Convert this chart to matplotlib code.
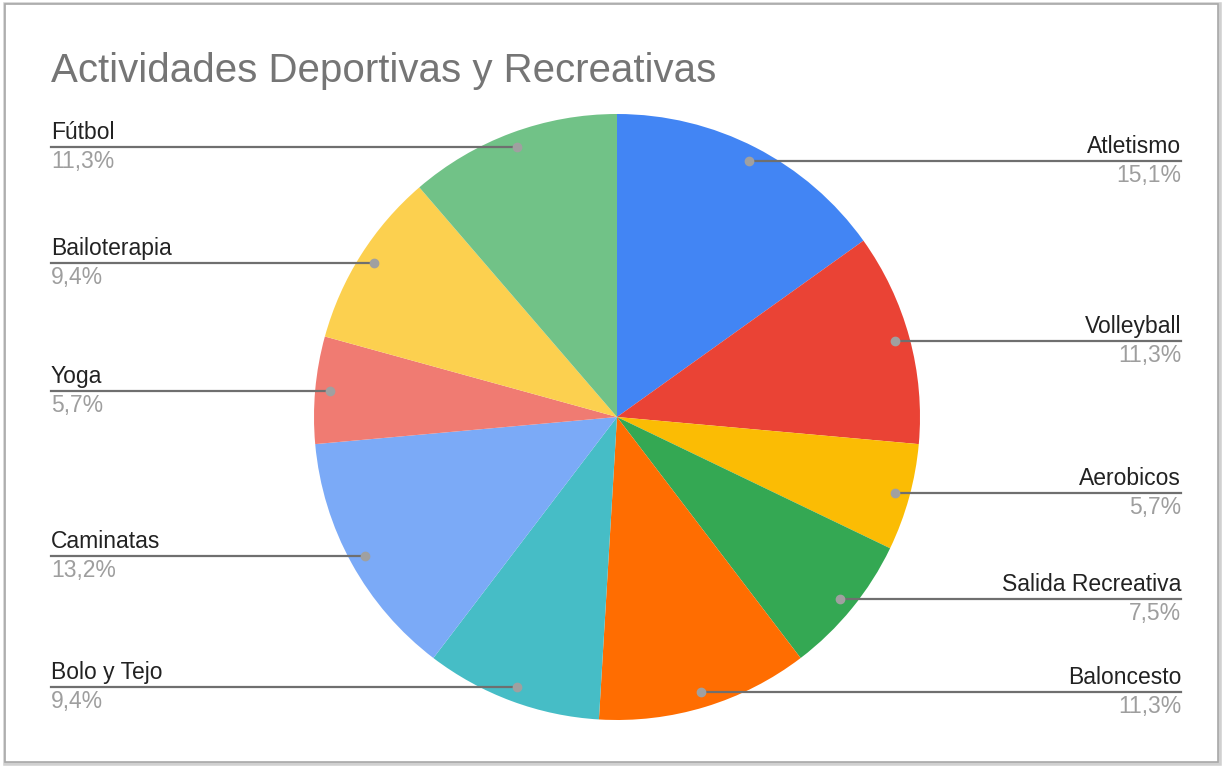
import numpy as np
import matplotlib.pyplot as plt
from matplotlib.patches import Rectangle

plt.rcParams['font.family'] = ['Liberation Sans', 'DejaVu Sans']

actividades = ["Atletismo", "Volleyball", "Aerobicos", "Salida Recreativa", "Baloncesto",
               "Bolo y Tejo", "Caminatas", "Yoga", "Bailoterapia", "Fútbol"]
porcentajes = [15.1, 11.3, 5.7, 7.5, 11.3, 9.4, 13.2, 5.7, 9.4, 11.3]
colores = ["#4285F4", "#EA4335", "#FBBC04", "#34A853", "#FF6D01",
           "#46BDC6", "#7BAAF7", "#F07B72", "#FCD04F", "#71C287"]

W, H = 1226, 766
fig = plt.figure(figsize=(W / 100, H / 100), dpi=100)
ax = fig.add_axes([0, 0, 1, 1])
ax.set_xlim(0, W)
ax.set_ylim(0, H)
ax.set_aspect('equal')
ax.axis('off')

# marco con sombra
ax.add_patch(Rectangle((6, 3), 1213, 758, facecolor='none', edgecolor='#d0d0d0', lw=4, zorder=0))
ax.add_patch(Rectangle((5, 4), 1213, 758, facecolor='white', edgecolor='#a8a8a8', lw=1.2, zorder=0))

cx, cy, R = 617, H - 417, 303
wedges, _ = ax.pie(porcentajes, colors=colores, startangle=90, counterclock=False,
                   center=(cx, cy), radius=R, frame=True)
ax.set_xlim(0, W)
ax.set_ylim(0, H)
ax.axis('off')

total = sum(porcentajes)
for w, nombre, p in zip(wedges, actividades, porcentajes):
    mid = np.deg2rad((w.theta1 + w.theta2) / 2)
    dx = cx + 0.95 * R * np.cos(mid)
    dy = cy + 0.95 * R * np.sin(mid)
    pct = f"{100 * p / total:.1f}".replace('.', ',') + "%"
    if np.cos(mid) > 0:
        x_txt, ha = 1181, 'right'
        ax.plot([dx, x_txt], [dy, dy], color='#6f6f6f', lw=1.6, zorder=5)
    else:
        x_txt, ha = 51, 'left'
        ax.plot([x_txt, dx], [dy, dy], color='#6f6f6f', lw=1.6, zorder=5)
    ax.plot(dx, dy, 'o', color='#a0a0a0', ms=6, zorder=6)
    ax.text(x_txt, dy + 8, nombre, ha=ha, va='baseline', fontsize=16.5, color='#222222')
    ax.text(x_txt, dy - 21, pct, ha=ha, va='baseline', fontsize=16.5, color='#9e9e9e')

ax.text(51, H - 82, "Actividades Deportivas y Recreativas", ha='left', va='baseline',
        fontsize=29, color='#757575')

fig.savefig("out.png", dpi=100)
